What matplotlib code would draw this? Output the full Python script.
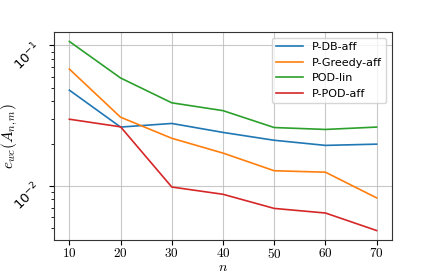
import numpy as np
import matplotlib
matplotlib.use("Agg")
import matplotlib.pyplot as plt
from matplotlib.ticker import FuncFormatter, LogLocator, NullFormatter

plt.rcParams['mathtext.fontset'] = 'cm'

n = [10, 20, 30, 40, 50, 60, 70]
p_db_aff = [0.0480, 0.0262, 0.0278, 0.0240, 0.0211, 0.0194, 0.0198]
p_greedy_aff = [0.0678, 0.0308, 0.0218, 0.0171, 0.0128, 0.0125, 0.0082]
pod_lin = [0.1067, 0.0586, 0.0390, 0.0343, 0.0260, 0.0252, 0.0262]
p_pod_aff = [0.0298, 0.0263, 0.0098, 0.0087, 0.0069, 0.0064, 0.0048]
labels = ['P-DB-aff', 'P-Greedy-aff', 'POD-lin', 'P-POD-aff']

fig = plt.figure(figsize=(4.36, 2.73), dpi=100)
ax = fig.add_axes([54/436, 1-240/273, (392-54)/436, (240-32)/273])

for y, lab in zip([p_db_aff, p_greedy_aff, pod_lin, p_pod_aff], labels):
    ax.plot(n, y, label=lab, lw=1.2)

ax.set_yscale('log')
ax.yaxis.set_minor_locator(LogLocator(base=10, subs=np.arange(2, 10)))
ax.yaxis.set_minor_formatter(NullFormatter())
ax.grid(True, which='major', color='#bbbbbb', lw=0.8, alpha=0.8)
ax.set_axisbelow(True)
ax.xaxis.set_major_formatter(FuncFormatter(lambda v, p: r'$%d$' % v))
ax.tick_params(axis='y', which='major', labelrotation=45, labelsize=9.5)
ax.tick_params(axis='x', labelsize=9.5, pad=1.5)
for s in ax.spines.values():
    s.set_color('#333333')
ax.set_xlabel(r'$n$', fontsize=10)
ax.set_ylabel(r'$e_{wc}(A_{n,m})$', fontsize=11)
ax.yaxis.set_label_coords(-0.10, 0.5)
ax.xaxis.set_label_coords(0.5, -0.096)
ax.legend(loc='upper right', fontsize=8, framealpha=0.8, edgecolor='#cccccc',
          handlelength=2.4)

fig.savefig('out.png', dpi=100)
